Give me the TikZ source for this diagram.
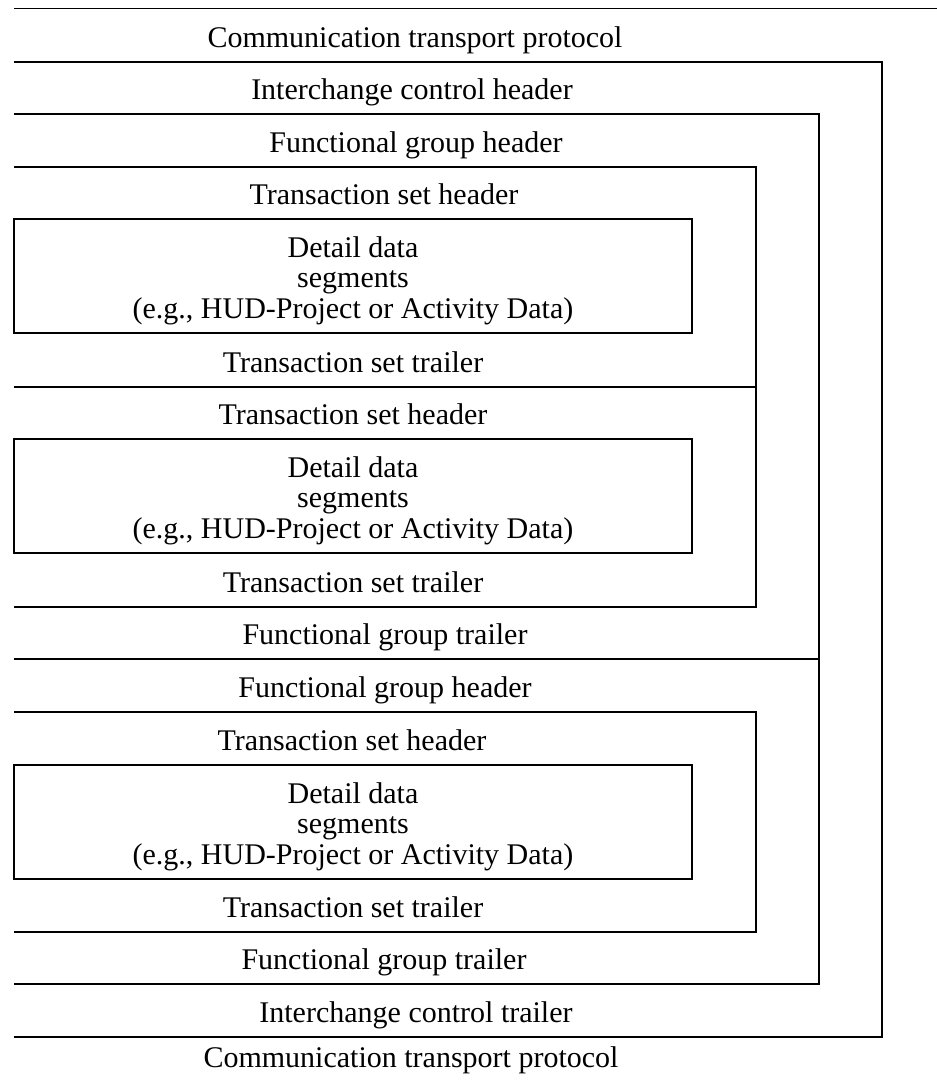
\documentclass[tikz,border=0pt]{standalone}
\usepackage{fontspec}
\setmainfont{Liberation Serif}
\begin{document}
\begin{tikzpicture}[x=1pt,y=-1pt,
  frame/.style={line width=1.9pt, line join=miter},
  lbl/.style={anchor=base, inner sep=0pt, font=\fontsize{30}{30.5}\selectfont},
  detail/.style={lbl, align=center}]
\useasboundingbox (0,0) rectangle (937,1082);

% envelope: communication transport protocol
\draw[frame] (14,8.5) -- (937,8.5);
% interchange control
\draw[frame] (14,62) -- (882,62) -- (882,1037) -- (14,1037);
% functional groups
\draw[frame] (14,114) -- (819,114) -- (819,984) -- (14,984);
\draw[frame] (14,659) -- (819,659);
% transaction sets
\draw[frame] (14,167) -- (756,167) -- (756,607) -- (14,607);
\draw[frame] (14,387) -- (756,387);
\draw[frame] (14,712) -- (756,712) -- (756,932) -- (14,932);
% detail data segments
\draw[frame] (14,219) rectangle (692,333);
\draw[frame] (14,439) rectangle (692,553);
\draw[frame] (14,765) rectangle (692,879);

% labels (multi-line nodes sit on the baseline of their last line)
\node[lbl] (ctpT) at (415,47)  {Communication transport protocol};
\node[lbl] (ich)  at (412,99)  {Interchange control header};
\node[lbl] (fgh1) at (416,152) {Functional group header};
\node[lbl] (tsh1) at (384,204) {Transaction set header};
\node[detail] (det1) at (353,318) {Detail data\\segments\\(e.g., HUD-Project or Activity Data)};
\node[lbl] (tst1) at (353,372) {Transaction set trailer};
\node[lbl] (tsh2) at (353,424) {Transaction set header};
\node[detail] (det2) at (353,538) {Detail data\\segments\\(e.g., HUD-Project or Activity Data)};
\node[lbl] (tst2) at (353,592) {Transaction set trailer};
\node[lbl] (fgt1) at (385,644) {Functional group trailer};
\node[lbl] (fgh2) at (385,697) {Functional group header};
\node[lbl] (tsh3) at (352,750) {Transaction set header};
\node[detail] (det3) at (353,864) {Detail data\\segments\\(e.g., HUD-Project or Activity Data)};
\node[lbl] (tst3) at (353,917) {Transaction set trailer};
\node[lbl] (fgt2) at (384,969) {Functional group trailer};
\node[lbl] (ict)  at (416,1022) {Interchange control trailer};
\node[lbl] (ctpB) at (411,1067) {Communication transport protocol};
\end{tikzpicture}
\end{document}
